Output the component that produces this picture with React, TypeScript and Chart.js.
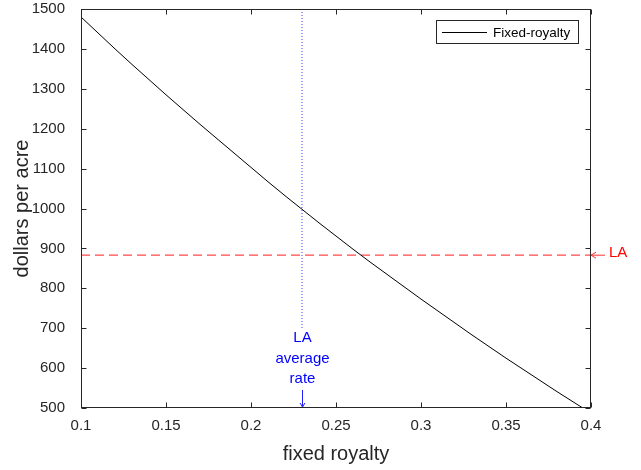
import { useEffect, useRef } from "react";
import { Chart, registerables } from "chart.js";

Chart.register(...registerables);

// ---- data ----
const royalty = [
  0.10, 0.11, 0.12, 0.13, 0.14, 0.15, 0.16, 0.17, 0.18, 0.19, 0.20,
  0.21, 0.22, 0.23, 0.24, 0.25, 0.26, 0.27, 0.28, 0.29, 0.30,
  0.31, 0.32, 0.33, 0.34, 0.35, 0.36, 0.37, 0.38, 0.39, 0.40,
];
const dollarsPerAcre = [
  1480, 1440, 1400, 1361, 1323, 1285, 1248, 1211, 1175, 1139, 1103,
  1067, 1032, 998, 964, 931, 898, 866, 835, 804, 773,
  743, 713, 683, 654, 625, 597, 569, 541, 514, 487,
];
const seriesLabel = "Fixed-royalty";
const laValue = 883; // LA dollars per acre (horizontal reference)
const laAverageRate = 0.23; // LA average royalty rate (vertical reference)
const laDottedTop = 1500;
const laDottedBottom = 700;
const xRange = [0.1, 0.4];
const yRange = [500, 1500];
const xStep = 0.05;
const yStep = 100;
const xTitle = "fixed royalty";
const yTitle = "dollars per acre";
const laLabel = "LA";
const laRateLines = ["LA", "average", "rate"];

const FONT = "'Liberation Sans', Arial, Helvetica, sans-serif";
const AXIS = "#262626";

function arrowHead(ctx: CanvasRenderingContext2D, x: number, y: number, dx: number, dy: number, size: number) {
  const len = Math.hypot(dx, dy);
  const ux = dx / len, uy = dy / len;
  const px = -uy, py = ux;
  ctx.beginPath();
  ctx.moveTo(x - ux * size + px * size * 0.6, y - uy * size + py * size * 0.6);
  ctx.lineTo(x, y);
  ctx.lineTo(x - ux * size - px * size * 0.6, y - uy * size - py * size * 0.6);
  ctx.stroke();
}

const decor = {
  id: "decor",
  afterDraw(chart: any) {
    const { ctx, chartArea: a, scales } = chart;
    const xs = scales.x, ys = scales.y;
    ctx.save();
    const L = Math.round(a.left) + 0.5;
    const R = Math.round(a.right) - 0.5;
    const T = Math.round(a.top) + 0.5;
    const B = Math.round(a.bottom) - 0.5;
    ctx.strokeStyle = AXIS;
    ctx.lineWidth = 1;
    ctx.setLineDash([]);
    ctx.strokeRect(L, T, R - L, B - T);
    const tl = 5;
    ctx.beginPath();
    xs.ticks.forEach((t: any) => {
      const px = Math.round(xs.getPixelForValue(t.value)) + 0.5;
      ctx.moveTo(px, B); ctx.lineTo(px, B - tl);
      ctx.moveTo(px, T); ctx.lineTo(px, T + tl);
    });
    ys.ticks.forEach((t: any) => {
      const py = Math.round(ys.getPixelForValue(t.value)) + 0.5;
      ctx.moveTo(L, py); ctx.lineTo(L + tl, py);
      ctx.moveTo(R, py); ctx.lineTo(R - tl, py);
    });
    ctx.stroke();

    // legend
    const lx = 436.5, ly = 20.5, lw = 142, lh = 23;
    ctx.fillStyle = "#fff";
    ctx.fillRect(lx, ly, lw, lh);
    ctx.strokeStyle = AXIS;
    ctx.strokeRect(lx, ly, lw, lh);
    const ds = chart.data.datasets[0];
    ctx.strokeStyle = ds.borderColor;
    ctx.beginPath();
    ctx.moveTo(442, 32.5); ctx.lineTo(487, 32.5);
    ctx.stroke();
    ctx.fillStyle = "#000";
    ctx.font = `13.5px ${FONT}`;
    ctx.textBaseline = "middle";
    ctx.textAlign = "left";
    ctx.fillText(ds.label, 493, 33);

    // LA horizontal annotation (right of axes)
    const yLA = ys.getPixelForValue(laValue);
    ctx.strokeStyle = "#ff3030";
    ctx.beginPath();
    ctx.moveTo(a.right + 14, yLA); ctx.lineTo(a.right, yLA);
    ctx.stroke();
    arrowHead(ctx, a.right, yLA, -1, 0, 5);
    ctx.fillStyle = "#ff0000";
    ctx.font = `15px ${FONT}`;
    ctx.textAlign = "left";
    ctx.fillText(laLabel, a.right + 18, yLA - 2);

    // LA average rate annotation
    const xLA = Math.round(xs.getPixelForValue(laAverageRate)) + 0.5;
    ctx.fillStyle = "#0000ff";
    ctx.textAlign = "center";
    ctx.font = `15px ${FONT}`;
    const baseY = 338;
    laRateLines.forEach((s, i) => ctx.fillText(s, xLA, baseY + i * 20.5));
    ctx.strokeStyle = "#2020ff";
    ctx.beginPath();
    ctx.moveTo(xLA, 390); ctx.lineTo(xLA, a.bottom - 1);
    ctx.stroke();
    arrowHead(ctx, xLA, a.bottom - 1, 0, 1, 4);
    ctx.restore();
  },
};

export default function App() {
  const ref = useRef<HTMLCanvasElement>(null);
  useEffect(() => {
    document.body.style.margin = "0";
    const chart = new Chart(ref.current!, {
      type: "line",
      data: {
        datasets: [
          {
            label: seriesLabel,
            data: royalty.map((r, i) => ({ x: r, y: dollarsPerAcre[i] })),
            borderColor: "#000000",
            borderWidth: 1,
            pointRadius: 0,
            tension: 0,
          },
          {
            label: "LA",
            data: [
              { x: xRange[0], y: laValue },
              { x: xRange[1], y: laValue },
            ],
            borderColor: "rgba(255,40,40,0.85)",
            borderWidth: 1.2,
            borderDash: [9, 5],
            pointRadius: 0,
          },
          {
            label: "LA average rate",
            data: [
              { x: laAverageRate, y: laDottedTop },
              { x: laAverageRate, y: laDottedBottom },
            ],
            borderColor: "rgba(40,40,255,0.9)",
            borderWidth: 1,
            borderDash: [1, 2],
            pointRadius: 0,
          },
        ],
      },
      options: {
        responsive: false,
        animation: false,
        devicePixelRatio: 1,
        layout: { padding: { top: 9, right: 50, left: 0, bottom: 0 } },
        plugins: { legend: { display: false }, tooltip: { enabled: false } },
        scales: {
          x: {
            type: "linear",
            min: xRange[0],
            max: xRange[1],
            grid: { display: false },
            border: { display: false },
            ticks: {
              stepSize: xStep,
              padding: 1,
              color: AXIS,
              font: { family: FONT, size: 15 },
              maxRotation: 0,
              callback: (v: any) => String(Number(Number(v).toFixed(2))),
            },
            title: {
              display: true,
              text: xTitle,
              color: AXIS,
              font: { family: FONT, size: 20 },
              padding: { top: 4, bottom: 4 },
            },
            afterFit: (s: any) => {
              s.height = 62;
              s.paddingLeft = 0;
              s.paddingRight = 0;
            },
          },
          y: {
            type: "linear",
            min: yRange[0],
            max: yRange[1],
            grid: { display: false },
            border: { display: false },
            ticks: {
              stepSize: yStep,
              padding: 8,
              color: AXIS,
              font: { family: FONT, size: 15 },
              callback: (v: any) => String(Math.round(Number(v))),
            },
            title: {
              display: true,
              text: yTitle,
              color: AXIS,
              font: { family: FONT, size: 20 },
              padding: { top: 10, bottom: 10 },
            },
            afterFit: (s: any) => {
              s.width = 81;
              s.paddingTop = 0;
              s.paddingBottom = 0;
            },
          },
        },
      },
      plugins: [decor],
    });
    return () => chart.destroy();
  }, []);
  return (
    <canvas
      ref={ref}
      width={641}
      height={470}
      style={{ position: "fixed", left: 0, top: 0, display: "block", background: "#fff" }}
    />
  );
}
